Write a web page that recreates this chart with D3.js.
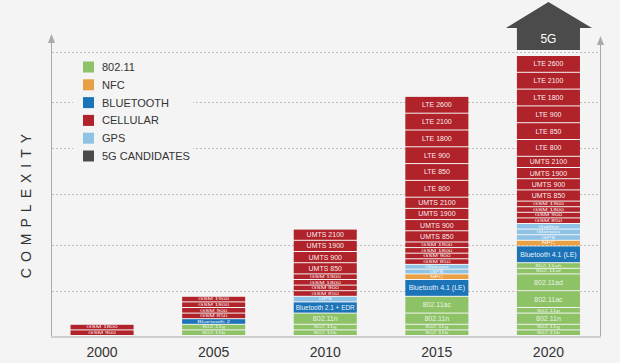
<!DOCTYPE html>
<html><head><meta charset="utf-8">
<script src="https://cdn.jsdelivr.net/npm/d3@7"></script>
<style>
html,body{margin:0;padding:0;background:#f4f4f4;}
svg{display:block;font-family:"Liberation Sans",Arial,Helvetica,sans-serif;}
</style></head>
<body>
<svg id="chart" width="620" height="363"></svg>
<script>
const years = ["2000","2005","2010","2015","2020"];
const legendNames = ["802.11","NFC","BLUETOOTH","CELLULAR","GPS","5G CANDIDATES"];
const legendKeys = ["wifi","nfc","bt","cell","gps","5g"];
const legendColors = ["#8dc266","#e9a043","#1b73b8","#b1232a","#8ec3e6","#4b4b4b"];
const gridValues = [8, 16.3, 25.4, 33.6, 41.8, 50.7];

// segments bottom -> top: [label, category, units]
const seg2000 = [["GSM 900","cell",1],["GSM 1800","cell",1]];
const seg2005 = [["802.11b","wifi",1],["802.11g","wifi",1],["Bluetooth 2","bt",1],
  ["GSM 850","cell",1],["GSM 900","cell",1],["GSM 1800","cell",1],["GSM 1900","cell",1]];
const seg2010 = [["802.11b","wifi",1],["802.11g","wifi",1],["802.11n","wifi",2],
  ["Bluetooth 2.1 + EDR","bt",2],["GPS","gps",1],
  ["GSM 850","cell",1],["GSM 900","cell",1],["GSM 1800","cell",1],["GSM 1900","cell",1],
  ["UMTS 850","cell",2],["UMTS 900","cell",2],["UMTS 1900","cell",2],["UMTS 2100","cell",2]];
const seg2015 = [["802.11b","wifi",1],["802.11g","wifi",1],["802.11n","wifi",2],["802.11ac","wifi",3],
  ["Bluetooth 4.1 (LE)","bt",3],["NFC","nfc",1],["GPS","gps",0.85],["Glonass","gps",0.85],
  ["GSM 850","cell",1],["GSM 900","cell",1],["GSM 1800","cell",1],["GSM 1900","cell",1],
  ["UMTS 850","cell",2],["UMTS 900","cell",2],["UMTS 1900","cell",2],["UMTS 2100","cell",2],
  ["LTE 800","cell",3],["LTE 850","cell",3],["LTE 900","cell",3],["LTE 1800","cell",3],["LTE 2100","cell",3],["LTE 2600","cell",3]];
const seg2020 = [["802.11b","wifi",1],["802.11g","wifi",1],["802.11n","wifi",2],["802.11p","wifi",1],
  ["802.11ac","wifi",3],["802.11ad","wifi",3],["802.11af","wifi",1],["802.11ah","wifi",1],
  ["Bluetooth 4.1 (LE)","bt",3],["NFC","nfc",1],["GPS","gps",1],["Glonass","gps",1],["Galileo","gps",1],
  ["GSM 850","cell",1],["GSM 900","cell",1],["GSM 1800","cell",1],["GSM 1900","cell",1],
  ["UMTS 850","cell",2],["UMTS 900","cell",2],["UMTS 1900","cell",2],["UMTS 2100","cell",2],
  ["LTE 800","cell",3],["LTE 850","cell",3],["LTE 900","cell",3],["LTE 1800","cell",3],["LTE 2100","cell",3],["LTE 2600","cell",3]];
const segments = [seg2000, seg2005, seg2010, seg2015, seg2020];
const futureLabel = "5G";

const svg = d3.select("#chart");
const color = d3.scaleOrdinal().domain(legendKeys).range(legendColors);
const x = d3.scaleBand().domain(years).range([51, 599.5]).paddingInner(0.435).paddingOuter(0.175);
const y = d3.scaleLinear().domain([0, 50]).range([336, 56]);

// gridlines
svg.append("g").selectAll("line").data(gridValues).join("line")
  .attr("x1", 52).attr("x2", 600)
  .attr("y1", d => Math.round(y(d)) + 0.5).attr("y2", d => Math.round(y(d)) + 0.5)
  .attr("stroke", "#bdbdbd").attr("stroke-width", 1).attr("stroke-dasharray", "2,2");

// axes lines with arrows
const axisG = svg.append("g");
axisG.append("line").attr("x1", 51.5).attr("x2", 51.5).attr("y1", 42).attr("y2", 337)
  .attr("stroke", "#aaaaaa").attr("stroke-width", 1);
axisG.append("path").attr("d", "M51.5,34 L48,43 L55,43 Z").attr("fill", "#aaaaaa");
axisG.append("line").attr("x1", 600.5).attr("x2", 600.5).attr("y1", 44).attr("y2", 337)
  .attr("stroke", "#aaaaaa").attr("stroke-width", 1);
axisG.append("path").attr("d", "M600.5,36 L597,45 L604,45 Z").attr("fill", "#aaaaaa");
axisG.append("line").attr("x1", 51).attr("x2", 601).attr("y1", 337).attr("y2", 337)
  .attr("stroke", "#cfcfcf").attr("stroke-width", 2);

// bars
years.forEach((yr, i) => {
  let cum = 0;
  const rows = segments[i].map(s => {
    const r = {label: s[0], cat: s[1], v0: cum, v1: cum + s[2], u: s[2]};
    cum += s[2];
    return r;
  });
  const g = svg.append("g");
  g.selectAll("rect").data(rows).join("rect")
    .attr("x", x(yr)).attr("width", x.bandwidth())
    .attr("y", d => y(d.v1))
    .attr("height", d => Math.max(0.5, y(d.v0) - y(d.v1) - 1))
    .attr("fill", d => color(d.cat));
  const cx = x(yr) + x.bandwidth() / 2;
  g.selectAll("text").data(rows).join("text")
    .attr("transform", d => {
      const h = y(d.v0) - y(d.v1);
      const fs = d.u >= 2 ? 7 : 6.5;
      const sy = Math.min(1, (h - 1.3) / (fs * 1.17));
      const cy = (y(d.v0) + y(d.v1)) / 2 - 0.5;
      return `translate(${cx},${cy}) scale(1,${sy.toFixed(3)})`;
    })
    .attr("text-anchor", "middle").attr("dominant-baseline", "central")
    .attr("fill", "#ffffff").attr("fill-opacity", d => d.cat === "wifi" ? 0.85 : 0.95)
    .attr("font-size", d => d.u >= 2 ? 7 : 6.5)
    .text(d => d.label)
    .each(function() {
      const w = this.getComputedTextLength();
      const maxW = x.bandwidth() - 4;
      if (w > maxW) d3.select(this).attr("textLength", maxW).attr("lengthAdjust", "spacingAndGlyphs");
    });
  if (i === years.length - 1) {
    const top = y(cum) - 6;
    const bx = x(yr), bw = x.bandwidth();
    const eave = top - 22, apex = top - 48;
    svg.append("path")
      .attr("d", `M${bx},${top} L${bx},${eave} L${bx - 11},${eave} L${cx},${apex} L${bx + bw + 12},${eave} L${bx + bw},${eave} L${bx + bw},${top} Z`)
      .attr("fill", color("5g"));
    svg.append("text").attr("x", cx).attr("y", top - 11)
      .attr("text-anchor", "middle").attr("dominant-baseline", "central")
      .attr("fill", "#ffffff").attr("font-size", 12).text(futureLabel);
  }
});

// year labels
svg.append("g").selectAll("text").data(years).join("text")
  .attr("x", d => x(d) + x.bandwidth() / 2).attr("y", 352)
  .attr("text-anchor", "middle").attr("dominant-baseline", "central")
  .attr("fill", "#333333").attr("font-size", 14).text(d => d);

// y axis title
svg.append("text").attr("transform", "translate(31,203) rotate(-90)")
  .attr("text-anchor", "middle").attr("fill", "#333333").attr("font-size", 14)
  .attr("letter-spacing", 6).text("COMPLEXITY");

// legend
const lg = svg.append("g");
lg.append("rect").attr("x", 73).attr("y", 56).attr("width", 120).attr("height", 110).attr("fill", "#f4f4f4");
const items = lg.selectAll("g").data(legendNames).join("g")
  .attr("transform", (d, i) => `translate(83,${67 + i * 17.8})`);
items.append("rect").attr("x", 0).attr("y", -5.5).attr("width", 11).attr("height", 11)
  .attr("fill", (d, i) => legendColors[i]);
items.append("text").attr("x", 19).attr("y", 0).attr("dominant-baseline", "central")
  .attr("fill", "#333333").attr("font-size", 11).text(d => d);
</script>
</body></html>
